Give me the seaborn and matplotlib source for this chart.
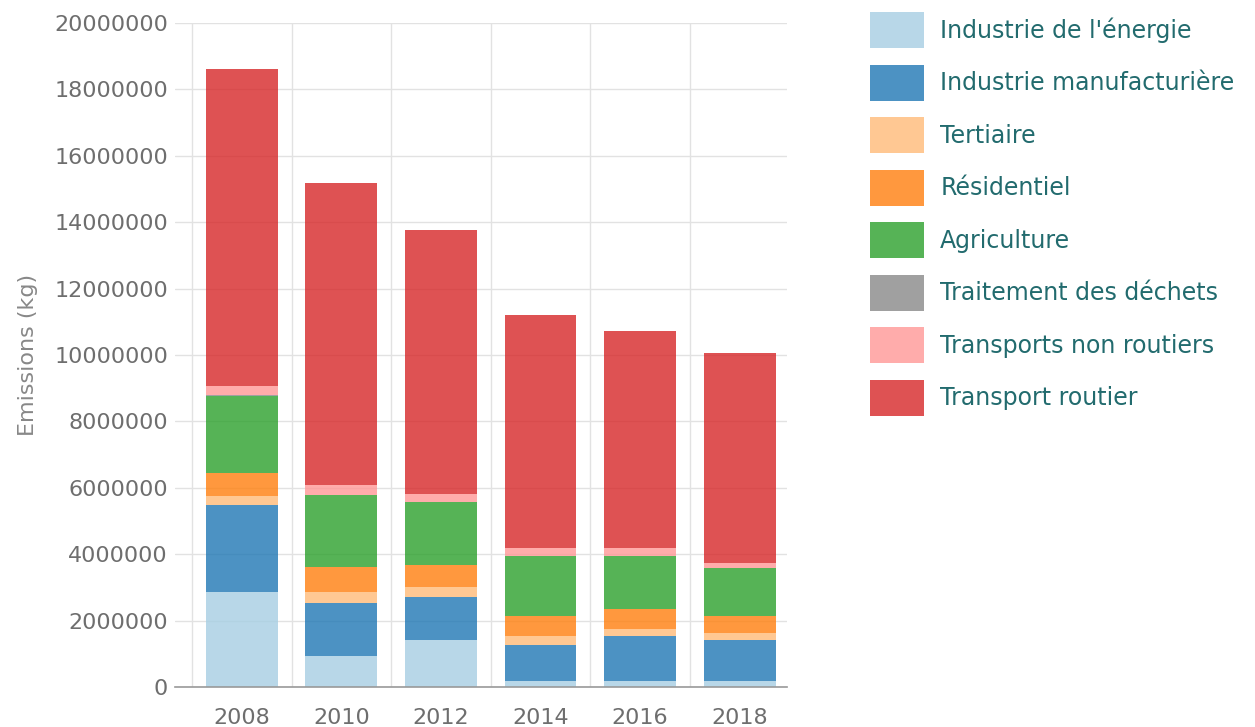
import matplotlib
matplotlib.use("Agg")
import matplotlib.pyplot as plt
import seaborn as sns
import numpy as np
import pandas as pd

years = ["2008", "2010", "2012", "2014", "2016", "2018"]

sectors = [
    "Industrie de l'énergie",
    "Industrie manufacturière",
    "Tertiaire",
    "Résidentiel",
    "Agriculture",
    "Traitement des déchets",
    "Transports non routiers",
    "Transport routier",
]

energie = [2860000, 940000, 1430000, 180000, 180000, 180000]
manufacturiere = [2610000, 1590000, 1270000, 1080000, 1360000, 1250000]
tertiaire = [270000, 320000, 310000, 280000, 210000, 210000]
residentiel = [700000, 770000, 660000, 600000, 600000, 500000]
agriculture = [2340000, 2150000, 1900000, 1800000, 1590000, 1430000]
dechets = [20000, 15000, 15000, 12000, 12000, 12000]
non_routiers = [280000, 290000, 230000, 220000, 220000, 150000]
routier = [9540000, 9120000, 7960000, 7040000, 6550000, 6330000]

series = [energie, manufacturiere, tertiaire, residentiel,
          agriculture, dechets, non_routiers, routier]

colors = ["#a6cee3", "#1f77b4", "#ffbb78", "#ff7f0e",
          "#2ca02c", "#888888", "#ff9896", "#d62728"]

sns.set_theme(style="white")
plt.rcParams["font.family"] = ["DejaVu Sans"]

fig = plt.figure(figsize=(12.55, 7.27), dpi=100)
ax = fig.add_axes([175 / 1255, 1 - 687 / 727, (787 - 175) / 1255, (687 - 23) / 727])

bottom = np.zeros(len(years))
for name, vals, col in zip(sectors, series, colors):
    df = pd.DataFrame({"annee": years, "emissions": vals})
    sns.barplot(data=df, x="annee", y="emissions", color=col, alpha=0.8,
                width=0.72, bottom=bottom, label=name, errorbar=None,
                saturation=1, linewidth=0, ax=ax)
    bottom = bottom + np.array(vals)

ax.set_xlim(-0.67, 5.475)
ax.set_ylim(0, 20000000)
ax.set_yticks(np.arange(0, 20000001, 2000000))
ax.set_yticklabels([str(v) for v in range(0, 20000001, 2000000)])

# grid: horizontal on y ticks, vertical on category boundaries
ax.set_xticks(np.arange(-0.5, 5.0, 1.0), minor=True)
ax.grid(True, axis="y", which="major", color="#e2e2e2", linewidth=1)
ax.grid(True, axis="x", which="minor", color="#e2e2e2", linewidth=1)
ax.grid(False, axis="x", which="major")
ax.set_axisbelow(True)

for s in ["top", "right", "left"]:
    ax.spines[s].set_visible(False)
ax.spines["bottom"].set_color("#999999")
ax.spines["bottom"].set_linewidth(1.2)

ax.tick_params(axis="x", which="major", length=0, pad=15, labelsize=16, labelcolor="#6e6e6e")
ax.tick_params(axis="x", which="minor", length=18, color="#e2e2e2", width=1)
ax.tick_params(axis="y", length=3, color="#cccccc", pad=2, labelsize=16, labelcolor="#6e6e6e")

ax.set_xlabel("")
ax.set_ylabel("Emissions (kg)", fontsize=16, color="#888888", labelpad=12)

handles, labels = ax.get_legend_handles_labels()
if ax.get_legend():
    ax.get_legend().remove()
fig.legend(handles, labels, loc="upper left",
           bbox_to_anchor=(870 / 1255, 1 - 12 / 727),
           frameon=False, borderpad=0, borderaxespad=0,
           handlelength=2.29, handleheight=1.97, labelspacing=0.70,
           handletextpad=0.68,
           prop={"family": ["DejaVu Sans"], "size": 17},
           labelcolor="#226b6e")

fig.savefig("out.png", dpi=100)
